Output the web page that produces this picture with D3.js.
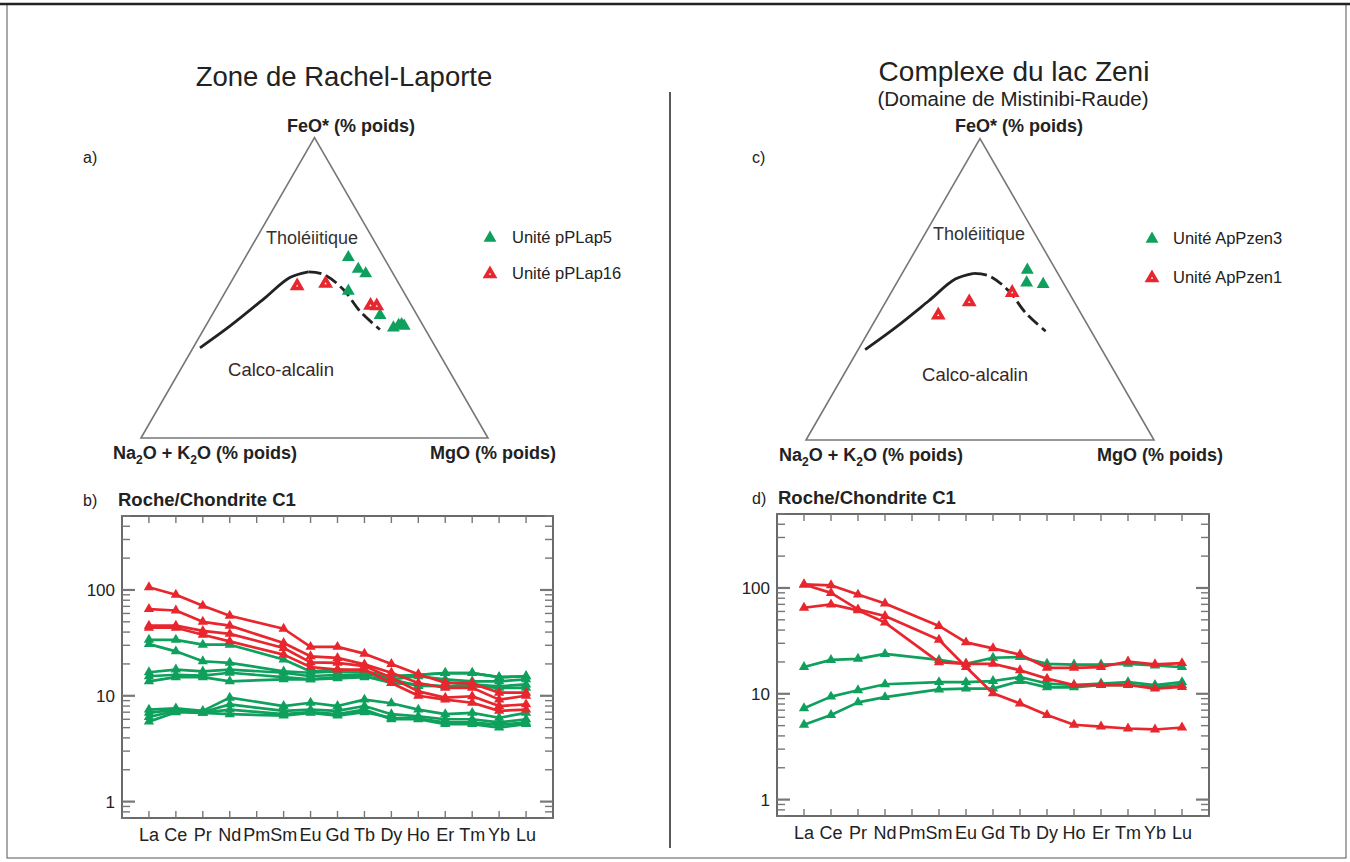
<!DOCTYPE html>
<html>
<head>
<meta charset="utf-8">
<script src="https://cdn.jsdelivr.net/npm/d3@7"></script>
<style>
  body { margin: 0; background: #fff; }
  text { font-family: "Liberation Sans", Arial, sans-serif; fill: #222; }
</style>
</head>
<body>
<div id="chart"></div>
<script>
var svgWidth = 1350;
var svgHeight = 862;

var green = "#0ea05c";
var red = "#e8262d";

// REE order (Pm has no analysis)
var elements = ["La", "Ce", "Pr", "Nd", "Pm", "Sm", "Eu", "Gd", "Tb", "Dy", "Ho", "Er", "Tm", "Yb", "Lu"];

// AFM boundary (Irvine & Baragar) - [Na2O+K2O, FeO*, MgO]
var boundarySolid = [[68.0, 30.0, 2.0], [55.8, 37.2, 7.0], [41.6, 46.2, 12.2], [30.4, 53.4, 16.2], [24.1, 55.3, 20.6]];
var boundaryDashed = [[24.1, 55.3, 20.6], [20.2, 54.5, 25.3], [17.0, 49.5, 33.5], [15.8, 42.2, 42.0], [13.1, 36.1, 50.8]];

// a) Rachel-Laporte AFM
var afmPPLap5 = [[10.2, 60.1, 29.7], [9.3, 56.2, 34.5], [7.9, 54.7, 37.4], [15.8, 48.9, 35.3], [10.7, 40.8, 48.5],
  [8.9, 36.7, 54.4], [6.0, 37.8, 56.2], [7.0, 37.5, 55.5], [5.5, 37.3, 57.2]];
var afmPPLap16 = [[29.7, 50.6, 19.7], [21.1, 51.4, 27.5], [11.8, 44.1, 44.1], [10.1, 43.9, 46.0]];

// c) lac Zeni AFM
var afmApPzen3 = [[8.2, 56.4, 35.4], [10.5, 52.2, 37.3], [6.0, 51.7, 42.3]];
var afmApPzen1 = [[41.3, 41.4, 17.3], [30.2, 45.8, 24.0], [16.3, 48.9, 34.8]];

// b) Rachel-Laporte REE / chondrite
var reePPLap5 = [
  [33.8, 33.8, 30.4, 30.4, null, 22, 17, 17.7, 17, 15.3, 15.8, 16.4, 16.4, 15, 15.3],
  [30.8, 26.3, 21.2, 20.5, null, 17, 16.5, 17, 16.5, 14.3, 12.4, 12.3, 12.3, 11.9, 11.9],
  [16.7, 17.7, 17, 17.7, null, 16.5, 15.3, 15.8, 15.8, 15.3, 15.8, 16.4, 16.4, 15, 15.3],
  [15.3, 15.8, 15.5, 16.5, null, 15, 14.3, 15, 15.3, 13.2, 12.8, 12.3, 12.8, 12.3, 12.8],
  [13.7, 15, 15, 13.7, null, 14.3, 14.3, 14.6, 15, 14.3, 15.3, 14.3, 13.7, 13.7, 14.3],
  [7.4, 7.6, 7.2, 9.6, null, 8.0, 8.6, 8.0, 9.2, 8.5, 7.4, 6.7, 6.9, 6.2, 6.9],
  [6.9, 7.4, 7.0, 8.3, null, 7.2, 7.4, 7.2, 8.0, 6.7, 6.4, 6.0, 6.0, 5.6, 6.0],
  [6.3, 7.2, 6.9, 7.4, null, 6.7, 7.0, 6.7, 7.4, 6.0, 6.0, 5.4, 5.4, 5.0, 5.4],
  [5.7, 7.0, 6.9, 6.7, null, 6.5, 6.9, 6.5, 7.0, 6.2, 6.1, 5.6, 5.6, 5.3, 5.6]
];
var reePPLap16 = [
  [106, 90, 71, 57, null, 43, 29, 29, 25, 20, 16, 13.3, 13.1, 10.7, 10.7],
  [66, 64, 50, 46, null, 31.5, 23.6, 22.8, 19.8, 16.5, 13.2, 11.9, 11.9, 9.2, 10],
  [46, 46, 41, 38.5, null, 28.3, 20.7, 20.5, 19.1, 14.8, 11, 9.6, 9.9, 8, 8.3],
  [44, 44, 37.7, 32.7, null, 24.5, 18.7, 17.7, 17.7, 13.2, 10, 9.2, 8.6, 7.2, 7.4]
];

// d) lac Zeni REE / chondrite
var reeApPzen3 = [
  [17.9, 20.9, 21.4, 23.8, null, 20.9, 19.2, 21.9, 22.2, 19.2, 18.9, 18.9, 19.2, 18.5, 17.9],
  [7.3, 9.4, 10.8, 12.3, null, 12.9, 12.9, 13.2, 14.4, 12.5, 12.1, 12.5, 12.9, 12.1, 12.9],
  [5.1, 6.3, 8.3, 9.3, null, 11.0, 11.2, 11.2, 13.2, 11.5, 11.5, 12.1, 12.1, 11.6, 12.1]
];
var reeApPzen1 = [
  [108, 106, 86.6, 71.4, null, 43.8, 30.6, 26.9, 23.5, 17.6, 17.6, 17.9, 20.2, 19, 19.5],
  [108, 89.8, 62.8, 54.4, null, 32.4, 17.9, 10.1, 8.1, 6.3, 5.1, 4.9, 4.7, 4.6, 4.8],
  [65, 69.9, 61.4, 47.1, null, 19.9, 19.2, 19.2, 16.7, 13.9, 12.1, 12.1, 12.1, 11.2, 11.6]
];

var svg = d3.select("#chart")
  .append("svg")
  .attr("width", svgWidth)
  .attr("height", svgHeight);

svg.append("rect")
  .attr("width", svgWidth)
  .attr("height", svgHeight)
  .attr("fill", "#fff");

// outer frame + divider
svg.append("rect")
  .attr("x", 7).attr("y", 4)
  .attr("width", 1339).attr("height", 854)
  .attr("fill", "none")
  .attr("stroke", "#555")
  .attr("stroke-width", 1);
svg.append("line")
  .attr("x1", 0).attr("x2", svgWidth).attr("y1", 4).attr("y2", 4)
  .attr("stroke", "#222").attr("stroke-width", 2.5);
svg.append("line")
  .attr("x1", 670).attr("x2", 670).attr("y1", 92).attr("y2", 848)
  .attr("stroke", "#222").attr("stroke-width", 1.5);

var triUp = d3.symbol().type(d3.symbolTriangle);

function greenMark(sel) {
  return sel.attr("d", triUp.size(72)()).attr("fill", green);
}
function redMark(sel) {
  return sel.attr("d", triUp.size(32)())
    .attr("fill", "#fff")
    .attr("stroke", red)
    .attr("stroke-width", 3.6)
    .attr("stroke-linejoin", "miter");
}

function drawTernary(left, base, side, greenPts, redPts) {
  var height = side * Math.sqrt(3) / 2;
  var xScale = d3.scaleLinear().domain([0, 1]).range([left, left + side]);
  var yScale = d3.scaleLinear().domain([0, 1]).range([base, base - height]);

  // [alk, FeO, MgO] -> screen
  function project(p) {
    var s = p[0] + p[1] + p[2];
    var f = p[1] / s, m = p[2] / s;
    return [xScale(m + f / 2), yScale(f)];
  }

  var g = svg.append("g");

  g.append("path")
    .attr("d", d3.line()([project([100, 0, 0]), project([0, 100, 0]), project([0, 0, 100])]) + "Z")
    .attr("fill", "none")
    .attr("stroke", "#777")
    .attr("stroke-width", 1.6);

  var curve = d3.line().curve(d3.curveCatmullRom);
  g.append("path")
    .attr("d", curve(boundarySolid.map(project)))
    .attr("fill", "none").attr("stroke", "#222").attr("stroke-width", 2.8);
  g.append("path")
    .attr("d", curve(boundaryDashed.map(project)))
    .attr("fill", "none").attr("stroke", "#222").attr("stroke-width", 2.8)
    .attr("stroke-dasharray", "13,5");

  g.selectAll(".gpt")
    .data(greenPts)
    .enter()
    .append("path")
    .attr("transform", d => "translate(" + project(d) + ")")
    .call(greenMark);

  g.selectAll(".rpt")
    .data(redPts)
    .enter()
    .append("path")
    .attr("transform", d => "translate(" + project(d) + ")")
    .call(redMark);
}

// bold axis label with subscripts
function axisLabel(x, y, parts) {
  var t = svg.append("text")
    .attr("x", x).attr("y", y)
    .attr("font-size", 18)
    .attr("font-weight", "bold");
  var shift = 0;
  parts.forEach(function(p) {
    if (p.sub) {
      t.append("tspan").attr("font-size", 12).attr("dy", 5 - shift).text(p.sub);
      shift = 5;
    } else {
      t.append("tspan").attr("dy", -shift).text(p.t);
      shift = 0;
    }
  });
}

function text(x, y, str, size, anchor, extra) {
  var t = svg.append("text")
    .attr("x", x).attr("y", y)
    .attr("font-size", size)
    .attr("text-anchor", anchor || "start")
    .text(str);
  if (extra) extra(t);
  return t;
}

function drawSpider(x0, x1, y0, y1, greens, reds) {
  var x = d3.scalePoint().domain(elements).range([x0, x1]).padding(1);
  var y = d3.scaleLog().domain([0.7, 500]).range([y1, y0]);
  var g = svg.append("g");

  g.append("rect")
    .attr("x", x0).attr("y", y0)
    .attr("width", x1 - x0).attr("height", y1 - y0)
    .attr("fill", "none").attr("stroke", "#5a5a5a").attr("stroke-width", 1.8);

  // y ticks, both sides, inside
  y.ticks().forEach(function(v) {
    var major = Math.abs(Math.log10(v) - Math.round(Math.log10(v))) < 1e-6;
    var len = major ? 13 : 8;
    [[x0, x0 + len], [x1, x1 - len]].forEach(function(s) {
      g.append("line")
        .attr("x1", s[0]).attr("x2", s[1])
        .attr("y1", y(v)).attr("y2", y(v))
        .attr("stroke", "#777").attr("stroke-width", major ? 2.2 : 1.4);
    });
    if (major) {
      g.append("text")
        .attr("x", x0 - 7).attr("y", y(v) + 6)
        .attr("text-anchor", "end")
        .attr("font-size", 17)
        .text(v);
    }
  });

  // x ticks top and bottom
  elements.forEach(function(el) {
    [[y0, y0 + 7], [y1, y1 - 7]].forEach(function(s) {
      g.append("line")
        .attr("x1", x(el)).attr("x2", x(el))
        .attr("y1", s[0]).attr("y2", s[1])
        .attr("stroke", "#777").attr("stroke-width", 1.4);
    });
    g.append("text")
      .attr("x", x(el)).attr("y", y1 + 23)
      .attr("text-anchor", "middle")
      .attr("font-size", 18)
      .text(el);
  });

  var line = d3.line().x(d => x(d.el)).y(d => y(d.v));

  function series(rows, color) {
    rows.forEach(function(row) {
      var pts = row.map((v, i) => ({ el: elements[i], v: v })).filter(d => d.v !== null);
      g.append("path")
        .attr("d", line(pts))
        .attr("fill", "none")
        .attr("stroke", color)
        .attr("stroke-width", 2.7)
        .attr("stroke-linejoin", "round");
      g.selectAll(null)
        .data(pts)
        .enter()
        .append("path")
        .attr("transform", d => "translate(" + x(d.el) + "," + y(d.v) + ")")
        .attr("d", triUp.size(46)())
        .attr("fill", color);
    });
  }
  series(greens, green);
  series(reds, red);
}

var na2o = [{ t: "Na" }, { sub: "2" }, { t: "O + K" }, { sub: "2" }, { t: "O (% poids)" }];

// ---------- left panel ----------
text(344, 86, "Zone de Rachel-Laporte", 27.5, "middle");
text(83, 163, "a)", 16);
drawTernary(141, 438, 347, afmPPLap5, afmPPLap16);
axisLabel(287, 132, [{ t: "FeO* (% poids)" }]);
axisLabel(113, 459, na2o);
axisLabel(430, 459, [{ t: "MgO (% poids)" }]);
text(312, 244, "Tholéiitique", 18, "middle", t => t.style("fill", "#333"));
text(281, 376, "Calco-alcalin", 18.5, "middle", t => t.style("fill", "#3a2628"));

svg.append("path").attr("transform", "translate(490,238)").call(greenMark);
text(512, 243, "Unité pPLap5", 16.5);
svg.append("path").attr("transform", "translate(490,274)").call(redMark);
text(512, 279, "Unité pPLap16", 16.5);

text(83, 506, "b)", 16);
text(118, 506, "Roche/Chondrite C1", 18.5, "start", t => t.attr("font-weight", "bold"));
drawSpider(122, 553, 516, 818, reePPLap5, reePPLap16);

// ---------- right panel ----------
text(1014, 81, "Complexe du lac Zeni", 28, "middle");
text(1013, 106, "(Domaine de Mistinibi-Raude)", 20.5, "middle");
text(752, 163, "c)", 16);
drawTernary(806, 440, 348, afmApPzen3, afmApPzen1);
axisLabel(955, 132, [{ t: "FeO* (% poids)" }]);
axisLabel(779, 461, na2o);
axisLabel(1097, 461, [{ t: "MgO (% poids)" }]);
text(979, 240, "Tholéiitique", 18, "middle", t => t.style("fill", "#333"));
text(975, 381, "Calco-alcalin", 18.5, "middle", t => t.style("fill", "#3a2628"));

svg.append("path").attr("transform", "translate(1152,239)").call(greenMark);
text(1173, 244, "Unité ApPzen3", 16.5);
svg.append("path").attr("transform", "translate(1152,278)").call(redMark);
text(1173, 283, "Unité ApPzen1", 16.5);

text(752, 504, "d)", 16);
text(778, 504, "Roche/Chondrite C1", 18.5, "start", t => t.attr("font-weight", "bold"));
drawSpider(777, 1209, 514, 816, reeApPzen3, reeApPzen1);
</script>
</body>
</html>
